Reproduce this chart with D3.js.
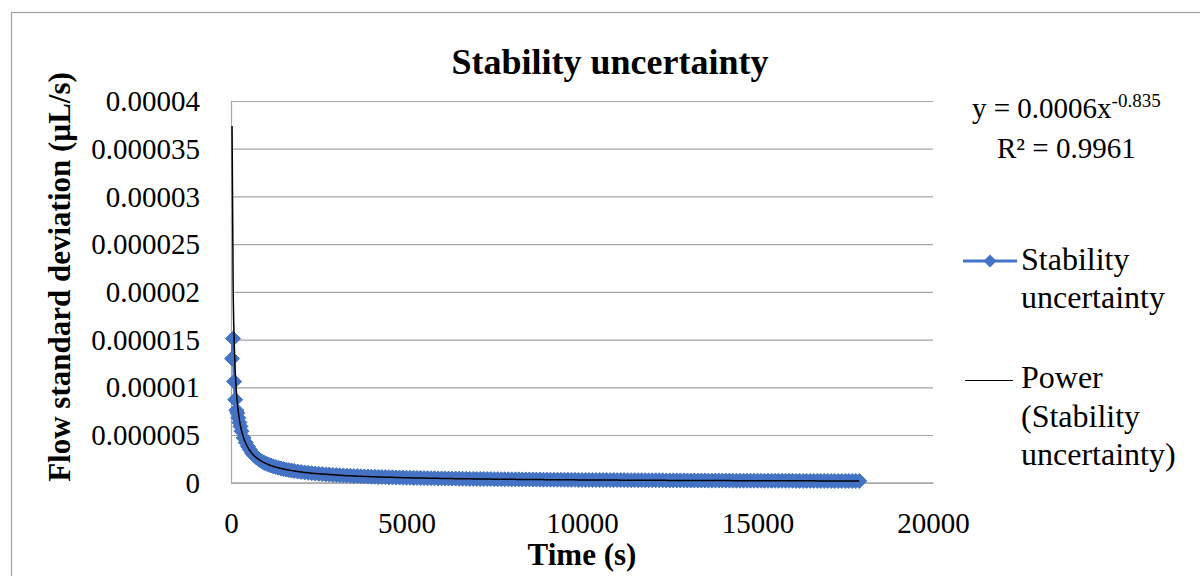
<!DOCTYPE html>
<html>
<head>
<meta charset="utf-8">
<script src="https://cdn.jsdelivr.net/npm/d3@7"></script>
<style>
  body { margin: 0; background: white; }
  svg { display: block; font-family: "Liberation Serif", "DejaVu Serif", serif; }
</style>
</head>
<body>
<div id="root"></div>
<script>
// time (s) of each point
var times = [
  30, 60, 90, 120, 150, 180, 210, 240, 270, 300,
  360, 420, 480, 540, 600, 660, 720, 780, 840, 900,
  960, 1020, 1080, 1140, 1200, 1275, 1350, 1425, 1500, 1575,
  1650, 1725, 1800, 1900, 2000, 2100, 2200, 2300, 2400, 2500,
  2600, 2700, 2800, 2900, 3000, 3100, 3200, 3300, 3400, 3500,
  3600, 3700, 3800, 3900, 4000, 4100, 4200, 4300, 4400, 4500,
  4600, 4700, 4800, 4900, 5000, 5100, 5200, 5300, 5400, 5500,
  5600, 5700, 5800, 5900, 6000, 6100, 6200, 6300, 6400, 6500,
  6600, 6700, 6800, 6900, 7000, 7100, 7200, 7300, 7400, 7500,
  7600, 7700, 7800, 7900, 8000, 8100, 8200, 8300, 8400, 8500,
  8600, 8700, 8800, 8900, 9000, 9100, 9200, 9300, 9400, 9500,
  9600, 9700, 9800, 9900, 10000, 10100, 10200, 10300, 10400, 10500,
  10600, 10700, 10800, 10900, 11000, 11100, 11200, 11300, 11400, 11500,
  11600, 11700, 11800, 11900, 12000, 12100, 12200, 12300, 12400, 12500,
  12600, 12700, 12800, 12900, 13000, 13100, 13200, 13300, 13400, 13500,
  13600, 13700, 13800, 13900, 14000, 14100, 14200, 14300, 14400, 14500,
  14600, 14700, 14800, 14900, 15000, 15100, 15200, 15300, 15400, 15500,
  15600, 15700, 15800, 15900, 16000, 16100, 16200, 16300, 16400, 16500,
  16600, 16700, 16800, 16900, 17000, 17100, 17200, 17300, 17400, 17500,
  17600, 17700, 17800, 17900];
// flow standard deviation, in units of 1e-6 uL/s
var flowSdE6 = [
  13.0, 15.1, 10.6, 8.7, 7.6, 7.3, 6.8, 6.3, 5.9, 5.4,
  4.7, 4.2, 3.8, 3.45, 3.1, 2.85, 2.65, 2.48, 2.32, 2.18,
  2.07, 1.97, 1.88, 1.80, 1.72, 1.64, 1.56, 1.49, 1.43, 1.37,
  1.32, 1.27, 1.23, 1.17, 1.12, 1.08, 1.04, 1.00, 0.96, 0.93,
  0.90, 0.87, 0.85, 0.82, 0.80, 0.78, 0.76, 0.74, 0.72, 0.70,
  0.69, 0.67, 0.66, 0.64, 0.63, 0.62, 0.60, 0.59, 0.58, 0.57,
  0.56, 0.55, 0.54, 0.53, 0.52, 0.51, 0.50, 0.50, 0.49, 0.48,
  0.47, 0.47, 0.46, 0.45, 0.45, 0.44, 0.44, 0.43, 0.43, 0.42,
  0.42, 0.41, 0.40, 0.40, 0.39, 0.39, 0.39, 0.38, 0.38, 0.37,
  0.37, 0.36, 0.36, 0.36, 0.35, 0.35, 0.35, 0.34, 0.34, 0.34,
  0.33, 0.33, 0.33, 0.32, 0.32, 0.32, 0.31, 0.31, 0.31, 0.31,
  0.30, 0.30, 0.30, 0.29, 0.29, 0.29, 0.29, 0.28, 0.28, 0.28,
  0.28, 0.28, 0.27, 0.27, 0.27, 0.27, 0.27, 0.26, 0.26, 0.26,
  0.26, 0.26, 0.25, 0.25, 0.25, 0.25, 0.25, 0.25, 0.24, 0.24,
  0.24, 0.24, 0.24, 0.24, 0.23, 0.23, 0.23, 0.23, 0.23, 0.23,
  0.22, 0.22, 0.22, 0.22, 0.22, 0.22, 0.22, 0.21, 0.21, 0.21,
  0.21, 0.21, 0.21, 0.21, 0.21, 0.20, 0.20, 0.20, 0.20, 0.20,
  0.20, 0.20, 0.20, 0.20, 0.20, 0.19, 0.19, 0.19, 0.19, 0.19,
  0.19, 0.19, 0.19, 0.19, 0.19, 0.18, 0.18, 0.18, 0.18, 0.18,
  0.18, 0.18, 0.18, 0.18];
// power trendline y = a * x^b (label shows rounded a = 0.0006)
var trendA = 0.00064;
var trendB = -0.835;

var xTicks = [0, 5000, 10000, 15000, 20000];
var yTicks = [0, 0.000005, 0.00001, 0.000015, 0.00002, 0.000025, 0.00003, 0.000035, 0.00004];
var yTickLabels = ["0", "0.000005", "0.00001", "0.000015", "0.00002", "0.000025", "0.00003", "0.000035", "0.00004"];

var dataset = times.map(function(t, i) {
  return { t: t, v: flowSdE6[i] * 1e-6 };
});

var w = 1200;
var h = 576;
var plot = { left: 231, right: 933, top: 101, bottom: 482.7 };
var blue = "#4472C4";
var grid = "#a6a6a6";

var svg = d3.select("#root").append("svg").attr("width", w).attr("height", h);
svg.append("rect").attr("width", w).attr("height", h).attr("fill", "white");
// chart area border (only left/top edges fall inside the picture)
svg.append("rect").attr("x", 11.5).attr("y", 12.5).attr("width", 1400).attr("height", 800)
  .attr("fill", "none").attr("stroke", "#a0a0a0").attr("stroke-width", 1.2);

var xScale = d3.scaleLinear().domain([0, 20000]).range([plot.left, plot.right]);
var yScale = d3.scaleLinear().domain([0, 0.00004]).range([plot.bottom, plot.top]);

// gridlines
svg.append("g").attr("class", "grid").attr("transform", "translate(" + plot.left + ",0)")
  .call(d3.axisLeft(yScale).tickValues(yTicks).tickSize(-(plot.right - plot.left)).tickFormat(""))
  .call(function(g) {
    g.select(".domain").remove();
    g.selectAll("line").attr("stroke", grid).attr("stroke-width", 1.2);
  });

// y axis
svg.append("g").attr("class", "axisY").attr("transform", "translate(" + plot.left + ",0)")
  .call(d3.axisLeft(yScale).tickValues(yTicks).tickSize(0).tickPadding(31)
    .tickFormat(function(d, i) { return yTickLabels[i]; }))
  .call(function(g) {
    g.select(".domain").attr("stroke", grid).attr("stroke-width", 1.2);
    g.selectAll("text").attr("font-family", "Liberation Serif").attr("font-size", "29px")
      .attr("fill", "black").attr("dy", "0.33em");
  });

// x axis
svg.append("g").attr("class", "axisX").attr("transform", "translate(0," + plot.bottom + ")")
  .call(d3.axisBottom(xScale).tickValues(xTicks).tickSize(0).tickFormat(d3.format("d")))
  .call(function(g) {
    g.select(".domain").attr("stroke", grid).attr("stroke-width", 1.2);
    g.selectAll("text").attr("font-family", "Liberation Serif").attr("font-size", "29px")
      .attr("fill", "black").attr("y", 50).attr("dy", 0);
  });

// series line + diamond markers
var line = d3.line().x(function(d) { return xScale(d.t); }).y(function(d) { return yScale(d.v); });
svg.append("path").datum(dataset).attr("d", line).attr("fill", "none")
  .attr("stroke", blue).attr("stroke-width", 3).attr("stroke-linejoin", "round");

var r = 7.5;
var diamond = "M0," + (-r) + "L" + r + ",0L0," + r + "L" + (-r) + ",0Z";
svg.append("g").selectAll("path").data(dataset).enter().append("path")
  .attr("d", diamond)
  .attr("transform", function(d) { return "translate(" + xScale(d.t) + "," + yScale(d.v) + ")"; })
  .attr("fill", blue).attr("stroke", blue).attr("stroke-width", 1);

// power trendline over the data range
var trend = times.map(function(t) { return { t: t, v: trendA * Math.pow(t, trendB) }; });
svg.append("path").datum(trend).attr("d", line.curve(d3.curveMonotoneX)).attr("fill", "none")
  .attr("stroke", "black").attr("stroke-width", 1.5);

// title
svg.append("text").attr("x", 610).attr("y", 74).attr("text-anchor", "middle")
  .attr("font-weight", "bold").style("font-size", "36px").text("Stability uncertainty");

// axis titles
svg.append("text").attr("x", 582).attr("y", 565).attr("text-anchor", "middle")
  .attr("font-weight", "bold").style("font-size", "31px").text("Time (s)");
svg.append("text").attr("transform", "translate(70,277) rotate(-90)").attr("text-anchor", "middle")
  .attr("font-weight", "bold").style("font-size", "31px").text("Flow standard deviation (\u00b5L/s)");

// trendline equation
var eq = svg.append("text").attr("x", 972).attr("y", 118).style("font-size", "29px");
eq.append("tspan").text("y = 0.0006x");
eq.append("tspan").attr("dy", -11).style("font-size", "19px").text("-0.835");
svg.append("text").attr("x", 997).attr("y", 158).style("font-size", "29px").text("R\u00b2 = 0.9961");

// legend
svg.append("line").attr("x1", 963).attr("x2", 1017).attr("y1", 261).attr("y2", 261)
  .attr("stroke", blue).attr("stroke-width", 3);
svg.append("path").attr("d", "M0,-6.5L6.5,0L0,6.5L-6.5,0Z").attr("transform", "translate(990,261)").attr("fill", blue);
svg.append("line").attr("x1", 965).attr("x2", 1013).attr("y1", 380.5).attr("y2", 380.5)
  .attr("stroke", "black").attr("stroke-width", 1.2);

var legendLines = [
  { text: "Stability", y: 270 },
  { text: "uncertainty", y: 308 },
  { text: "Power", y: 388 },
  { text: "(Stability", y: 427 },
  { text: "uncertainty)", y: 465 }
];
svg.selectAll(".legendText").data(legendLines).enter().append("text")
  .attr("class", "legendText").attr("x", 1021).attr("y", function(d) { return d.y; })
  .style("font-size", "32px").text(function(d) { return d.text; });
</script>
</body>
</html>
